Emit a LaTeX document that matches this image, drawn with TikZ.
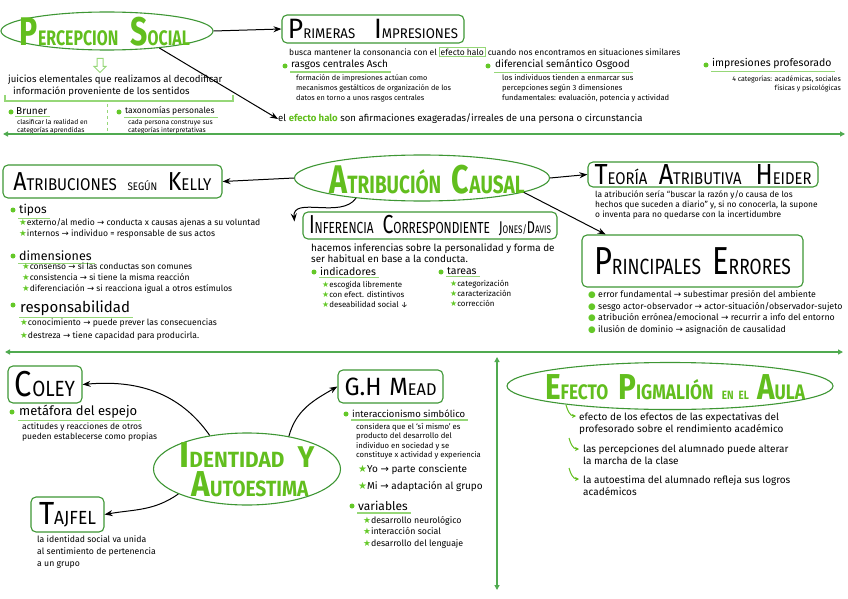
\documentclass[tikz,border=0pt]{standalone}
\usepackage{fontspec}
\setmainfont{Fira Sans}
\newfontfamily\symf{DejaVu Sans}
\usetikzlibrary{shapes.geometric,shapes.arrows,arrows.meta,calc}
\definecolor{tgreen}{RGB}{98,190,30}
\definecolor{bgreen}{RGB}{62,150,52}
\definecolor{lgreen}{RGB}{150,215,120}
\definecolor{sgreen}{RGB}{80,170,80}
\definecolor{dotg}{RGB}{100,200,40}
\newcommand{\T}[2]{{\fontsize{#1}{#1}\selectfont #2}}
\newcommand{\fnt}[2]{\fontsize{#1}{#2}\selectfont}
\newcommand{\fitw}[2]{\resizebox{#1pt}{\height}{#2}}
\newcommand{\gap}[1]{\hspace*{#1pt}}
\newcommand{\st}{\textcolor{dotg}{\symf ★}}
\newcommand{\ra}{{\symf →}}
\newcommand{\bd}{\textcolor{dotg}{\symf ●}}
\newcommand{\ulin}[1]{\draw[ulst] ($(#1.south west)+(-1,2)$) -- ($(#1.south east)+(3,2)$);}
\begin{document}
\begin{tikzpicture}[x=1pt,y=-1pt,
  boxst/.style={draw=bgreen, line width=1.1pt, rounded corners=5pt, inner sep=0pt},
  ellst/.style={ellipse, draw=bgreen, line width=1.1pt, inner sep=0pt},
  gtitle/.style={inner sep=0pt, text=tgreen, font=\bfseries, align=center},
  txt/.style={anchor=north west, align=left, inner sep=0pt},
  hd/.style={anchor=west, inner sep=0pt, font=\bfseries},
  dotst/.style={circle, fill=dotg, inner sep=0pt, minimum size=5pt},
  conn/.style={-{Stealth[length=8pt,width=6pt]}, line width=1pt, black},
  sepst/.style={{Triangle[length=5pt,width=5pt]}-{Triangle[length=5pt,width=5pt]}, line width=1.3pt, sgreen},
  ulst/.style={lgreen, line width=1.2pt},
  garr/.style={-{Stealth[length=4pt,width=4pt]}, line width=1pt, tgreen}]
\useasboundingbox (0,0) rectangle (848,599);

% ================= TOP =================
\node[ellst, minimum width=212pt, minimum height=38pt] (perc) at (107,31) {};
\node[gtitle] (percT) at (105,32) {\fitw{170}{\T{40}{P}\T{21}{ERCEPCION}\gap{16}\T{40}{S}\T{21}{OCIAL}}};
\node[single arrow, draw=lgreen, line width=1pt, shape border rotate=270, minimum height=14pt, minimum width=12pt, single arrow head extend=2pt, inner sep=1.5pt] (darr) at (100,64) {};
\node[txt, font=\fnt{9.6}{12}] (juic) at (8,75) {juicios elementales que realizamos al decodificar\\\hspace{5pt}información proveniente de los sentidos};
\draw[lgreen, line width=1.3pt] (5,95) -- (5,101) -- (233,101) -- (233,95);
\draw[lgreen, dashed, line width=1pt] (107,104) -- (107,133);

\node[dotst] (d1) at (11,112) {};
\node[hd, font=\fnt{10}{10}, anchor=west] (bru) at (16,111) {\mdseries Bruner};
\ulin{bru}
\node[txt, font=\fnt{6.7}{8.5}] (brud) at (17,119) {clasificar la realidad en\\categorías aprendidas};
\node[dotst] (d2) at (119,112) {};
\node[hd, font=\fnt{8.5}{8.5}] (tax) at (125,111) {\mdseries taxonomías personales};
\ulin{tax}
\node[txt, font=\fnt{6.7}{8.5}] (taxd) at (128,119) {cada persona construye sus\\categorías interpretativas};

\node[boxst, minimum width=182pt, minimum height=28pt] (prim) at (373,29)
  {\fitw{170}{\T{28}{P}\T{14}{RIMERAS}\gap{20}\T{28}{I}\T{14}{MPRESIONES}}};
\draw[conn] (perc.east) -- (prim.west);

\node[anchor=west, inner sep=0pt, font=\fnt{8.5}{10}] (busca) at (289,52) {busca mantener la consonancia con el \setlength{\fboxsep}{1.2pt}\fcolorbox{lgreen}{white}{efecto halo} cuando nos encontramos en situaciones similares};

\node[dotst] (d3) at (285,66) {};
\node[hd, font=\fnt{10}{10}] (asch) at (291,65) {rasgos centrales Asch};
\ulin{asch}
\node[txt, font=\fnt{7.3}{10}] (aschd) at (296,74) {formación de impresiones actúan como\\mecanismos gestálticos de organización de los\\datos en torno a unos rasgos centrales};

\node[dotst] (d4) at (488,66) {};
\node[hd, font=\fnt{10}{10}] (osg) at (495,65) {diferencial semántico Osgood};
\ulin{osg}
\node[txt, font=\fnt{7.6}{10}] (osgd) at (502,74) {los individuos tienden a enmarcar sus\\percepciones según 3 dimensiones\\fundamentales: evaluación, potencia y actividad};

\node[dotst] (d5) at (706,65) {};
\node[hd, font=\fnt{10.5}{10.5}] (prof) at (712,64) {\mdseries impresiones profesorado};
\ulin{prof}
\node[anchor=north east, align=right, inner sep=0pt, font=\fnt{7}{9}] (profd) at (841,76) {4 categorías: académicas, sociales\\físicas y psicológicas};

\node[anchor=west, inner sep=0pt, font=\fnt{9.6}{10}] (halo) at (278,119) {el {\color{tgreen}\bfseries efecto halo} son afirmaciones exageradas/irreales de una persona o circunstancia};
\draw[conn] (perc.-18) -- (halo.west);

\coordinate (s1a) at (3,134);
\coordinate (s1b) at (845,134);
\draw[sepst] (s1a) -- (s1b);

% ================= MIDDLE =================
\node[boxst, minimum width=219pt, minimum height=33pt] (kelly) at (112.5,181.5)
  {\fitw{198}{\T{26}{A}\T{17}{TRIBUCIONES}\gap{12}\T{11}{SEGÚN}\gap{12}\T{26}{K}\T{17}{ELLY}}};
\node[ellst, minimum width=255pt, minimum height=46pt] (causal) at (422,178) {};
\node[gtitle] (causalT) at (427,180) {\fitw{195}{\T{40}{A}\T{25}{TRIBUCIÓN}\gap{14}\T{40}{C}\T{25}{AUSAL}}};
\draw[conn] (causal.west) -- (kelly.east);

\node[boxst, minimum width=230pt, minimum height=25pt] (teoria) at (703,174.5)
  {\fitw{217}{\T{29}{T}\T{17}{EORÍA}\gap{13}\T{29}{A}\T{17}{TRIBUTIVA}\gap{16}\T{29}{H}\T{17}{EIDER}}};
\draw[conn] (causal.east) -- (teoria.west);
\node[txt, font=\fnt{8.4}{10}] (teoriad) at (595,191) {la atribución sería “buscar la razón y/o causa de los\\hechos que suceden a diario” y, si no conocerla, la supone\\o inventa para no quedarse con la incertidumbre};

\node[boxst, minimum width=221pt, minimum height=52pt] (errores) at (692.5,261)
  {\fitw{197}{\T{39}{P}\T{22}{RINCIPALES}\gap{14}\T{39}{E}\T{22}{RRORES}}};
\draw[conn] (causal.-8) -- (errores.163);
\node[txt, font=\fnt{8.8}{11.8}] (erroresd) at (588,290) {\bd\ error fundamental \ra{} subestimar presión del ambiente\\\bd\ sesgo actor-observador \ra{} actor-situación/observador-sujeto\\\bd\ atribución errónea/emocional \ra{} recurrir a info del entorno\\\bd\ ilusión de dominio \ra{} asignación de causalidad};

\node[boxst, minimum width=254pt, minimum height=27pt] (infer) at (430,225.5)
  {\fitw{242}{\T{26}{I}\T{16}{NFERENCIA}\gap{12}\T{26}{C}\T{16}{ORRESPONDIENTE}\gap{12}\T{17}{J}\T{11}{ONES/}\T{17}{D}\T{11}{AVIS}}};
\draw[conn] (causal.197) to[out=235,in=95] ($(infer.west)+(-8,-4)$);
\node[txt, font=\fnt{9.9}{9.5}] (inferd) at (311,244) {hacemos inferencias sobre la personalidad y forma de\\ser habitual en base a la conducta.};

\node[dotst] (d6) at (314,272) {};
\node[hd, font=\fnt{10.5}{10.5}] (ind) at (320,271) {\mdseries indicadores};
\ulin{ind}
\node[txt, font=\fnt{7.9}{10}] (indd) at (322,281) {\st escogida libremente\\\st con efect. distintivos\\\st deseabilidad social ↓};
\node[dotst] (d7) at (441,272) {};
\node[hd, font=\fnt{10.5}{10.5}] (tar) at (447,271) {\mdseries tareas};
\ulin{tar}
\node[txt, font=\fnt{7.9}{10}] (tard) at (450,280) {\st categorización\\\st caracterización\\\st corrección};

\node[dotst] (d8) at (13,210) {};
\node[hd, font=\fnt{12}{12}] (tipos) at (19,210) {\mdseries tipos};
\ulin{tipos}
\node[txt, font=\fnt{8.6}{11}] (tiposd) at (19,218) {\st externo/al medio \ra{} conducta x causas ajenas a su voluntad\\\st internos \ra{} individuo = responsable de sus actos};
\node[dotst] (d9) at (13,256) {};
\node[hd, font=\fnt{12.5}{12.5}] (dim) at (19,256) {\mdseries dimensiones};
\ulin{dim}
\node[txt, font=\fnt{8.5}{11}] (dimd) at (22,263) {\st consenso \ra{} si las conductas son comunes\\\st consistencia \ra{} si tiene la misma reacción\\\st diferenciación \ra{} si reacciona igual a otros estímulos};
\node[dotst] (d10) at (13,305) {};
\node[hd, font=\fnt{15}{15}] (resp) at (20,308) {\mdseries responsabilidad};
\ulin{resp}
\node[txt, font=\fnt{8.6}{13}] (respd) at (20,319) {\st conocimiento \ra{} puede prever las consecuencias\\\st destreza \ra{} tiene capacidad para producirla.};

\coordinate (s2a) at (5,352);
\coordinate (s2b) at (843,352);
\draw[sepst] (s2a) -- (s2b);
\coordinate (s3a) at (497,357);
\coordinate (s3b) at (497,590);
\draw[sepst] (s3a) -- (s3b);

% ================= BOTTOM =================
\node[boxst, minimum width=74pt, minimum height=37pt] (coley) at (45,384.5) {\fitw{60}{\T{36}{C}\T{22}{OLEY}}};
\node[dotst] (d11) at (12,412) {};
\node[hd, font=\fnt{13}{13}] (meta) at (19,412) {\mdseries metáfora del espejo};
\ulin{meta}
\node[txt, font=\fnt{8.5}{9.5}] (metad) at (22,423) {actitudes y reacciones de otros\\pueden establecerse como propias};

\node[ellst, minimum width=187pt, minimum height=72pt] (ident) at (247,469) {};
\node[gtitle] (identT1) at (247,455) {\fitw{135}{\T{36}{I}\T{22}{DENTIDAD}\gap{14}\T{30}{Y}}};
\node[gtitle] (identT2) at (250,484) {\fitw{117}{\T{36}{A}\T{22}{UTOESTIMA}}};
\draw[conn] (ident.138) to[out=125,in=5] (coley.east);

\node[boxst, minimum width=73pt, minimum height=35pt] (tajfel) at (67.5,514.5) {\fitw{57}{\T{32}{T}\T{19}{AJFEL}}};
\draw[conn] (ident.200) to[out=215,in=10] (tajfel.east);
\node[txt, font=\fnt{8.7}{12}] (tajd) at (37,536) {la identidad social va unida\\al sentimiento de pertenencia\\a un grupo};

\node[boxst, minimum width=105pt, minimum height=33pt] (mead) at (390.5,386.5) {\fitw{92}{\T{25}{G.H}\gap{8}\T{25}{M}\T{17}{EAD}}};
\draw[conn] (ident.38) to[out=75,in=210] (mead.west);
\node[dotst] (d12) at (346,414) {};
\node[hd, font=\fnt{9.5}{9.5}] (inter) at (352,414) {\mdseries interaccionismo simbólico};
\ulin{inter}
\node[txt, font=\fnt{7.7}{9.5}] (interd) at (356,423) {considera que el ‘sí mismo’ es\\producto del desarrollo del\\individuo en sociedad y se\\constituye x actividad y experiencia};
\node[txt, font=\fnt{10}{17}] (yomi) at (358,464) {\st Yo \ra{} parte consciente\\\st Mi \ra{} adaptación al grupo};
\node[dotst] (d13) at (352,506) {};
\node[hd, font=\fnt{12}{12}] (var) at (358,506) {\mdseries variables};
\ulin{var}
\node[txt, font=\fnt{8.8}{11.5}] (vard) at (363,516) {\st desarrollo neurológico\\\st interacción social\\\st desarrollo del lenguaje};

\node[ellst, minimum width=326pt, minimum height=47pt] (pig) at (670,386) {};
\node[gtitle] (pigT) at (675,387) {\fitw{260}{\T{36}{E}\T{21}{FECTO}\gap{12}\T{36}{P}\T{21}{IGMALIÓN}\gap{10}\T{12}{EN}\gap{6}\T{12}{EL}\gap{10}\T{36}{A}\T{21}{ULA}}};
\coordinate (g1a) at (566,405); \coordinate (g1b) at (576,416);
\coordinate (g2a) at (569,438); \coordinate (g2b) at (579,449);
\coordinate (g3a) at (569,468); \coordinate (g3b) at (579,479);
\draw[garr] (g1a) to[out=-75,in=180] (g1b);
\draw[garr] (g2a) to[out=-75,in=180] (g2b);
\draw[garr] (g3a) to[out=-75,in=180] (g3b);
\node[txt, font=\fnt{10}{12}] (pig1) at (579,412) {efecto de los efectos de las expectativas del\\profesorado sobre el rendimiento académico};
\node[txt, font=\fnt{10}{12.5}] (pig2) at (583,444) {las percepciones del alumnado puede alterar\\la marcha de la clase};
\node[txt, font=\fnt{10}{12.5}] (pig3) at (583,475) {la autoestima del alumnado refleja sus logros\\académicos};
\end{tikzpicture}
\end{document}
